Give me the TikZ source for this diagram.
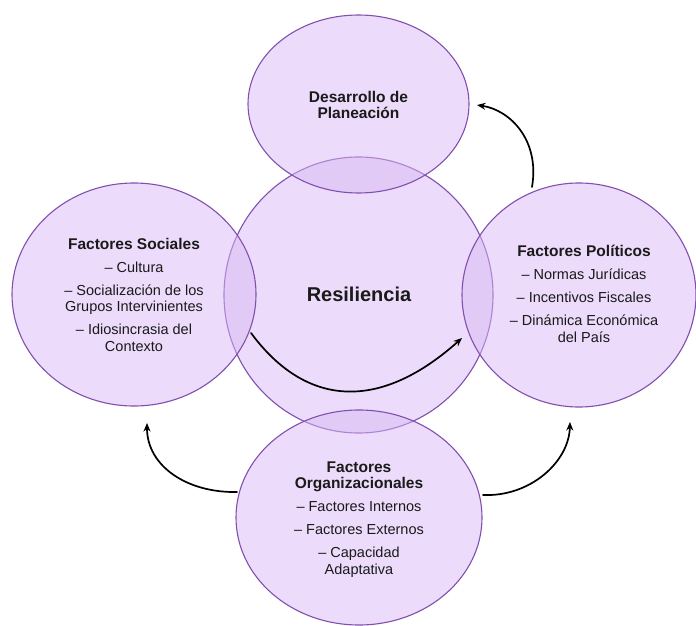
\documentclass[tikz,border=0pt]{standalone}
\usepackage{fontspec}
\setmainfont{Liberation Sans}
\usetikzlibrary{shapes.geometric,arrows.meta}
\definecolor{circfill}{HTML}{D9B8F5}
\definecolor{circline}{HTML}{8150AD}
\definecolor{txt}{HTML}{1A1A1A}
\begin{document}
\begin{tikzpicture}[x=1bp,y=-1bp,
  circ/.style={ellipse,draw=circline,line width=1.1bp,fill=circfill,fill opacity=0.5,inner sep=0pt},
  lbl/.style={align=center,text=txt,inner sep=0pt,font=\fontsize{14.5bp}{16.5bp}\selectfont},
  arr/.style={line width=1.7bp,line cap=round,-{Stealth[length=8.5bp,width=7bp]}}]
\useasboundingbox (0,0) rectangle (696,626);
% circles
\node[circ,minimum width=269bp,minimum height=276bp] (res) at (358.5,295) {};
\node[circ,minimum width=221bp,minimum height=178bp] (des) at (358.5,104) {};
\node[circ,minimum width=244bp,minimum height=223bp] (soc) at (134,294.5) {};
\node[circ,minimum width=234bp,minimum height=224bp] (pol) at (579,295) {};
\node[circ,minimum width=246bp,minimum height=215bp] (org) at (359,517.5) {};
% texts
\node[lbl,font=\fontsize{20bp}{22bp}\selectfont\bfseries] (tres) at (359,294) {Resiliencia};
\node[lbl,font=\fontsize{15.5bp}{16.5bp}\selectfont\bfseries] (tdes) at (358.5,105) {Desarrollo de\\Planeación};
\node[lbl] (tsoc) at (134,294.5) {{\bfseries\fontsize{15.5bp}{16.5bp}\selectfont Factores Sociales}\\[6.5bp]
  – Cultura\\[6.5bp]
  – Socialización de los\\Grupos Intervinientes\\[6.5bp]
  – Idiosincrasia del\\Contexto};
\node[lbl] (tpol) at (584,294) {{\bfseries\fontsize{15.5bp}{16.5bp}\selectfont Factores Políticos}\\[6.5bp]
  – Normas Jurídicas\\[6.5bp]
  – Incentivos Fiscales\\[6.5bp]
  – Dinámica Económica\\del País};
\node[lbl] (torg) at (359,519.5) {{\bfseries\fontsize{15.5bp}{16.5bp}\selectfont Factores}\\{\bfseries\fontsize{15.5bp}{16.5bp}\selectfont Organizacionales}\\[6.5bp]
  – Factores Internos\\[6.5bp]
  – Factores Externos\\[6.5bp]
  – Capacidad\\Adaptativa};
% arrow end points
\coordinate (a1s) at (532,187);
\coordinate (a1e) at (477,105);
\coordinate (a2s) at (251,333);
\coordinate (a2e) at (462,338);
\coordinate (a3s) at (237,492);
\coordinate (a3e) at (147,423);
\coordinate (a4s) at (483,495);
\coordinate (a4e) at (570,422);
\draw[arr] (a1s) .. controls (540,140) and (510,110) .. (a1e);
\draw[arr] (a2s) .. controls (305,406) and (378,413) .. (a2e);
\draw[arr] (a3s) .. controls (187,493) and (147,466) .. (a3e);
\draw[arr] (a4s) .. controls (530,497) and (569,462) .. (a4e);
\end{tikzpicture}
\end{document}
